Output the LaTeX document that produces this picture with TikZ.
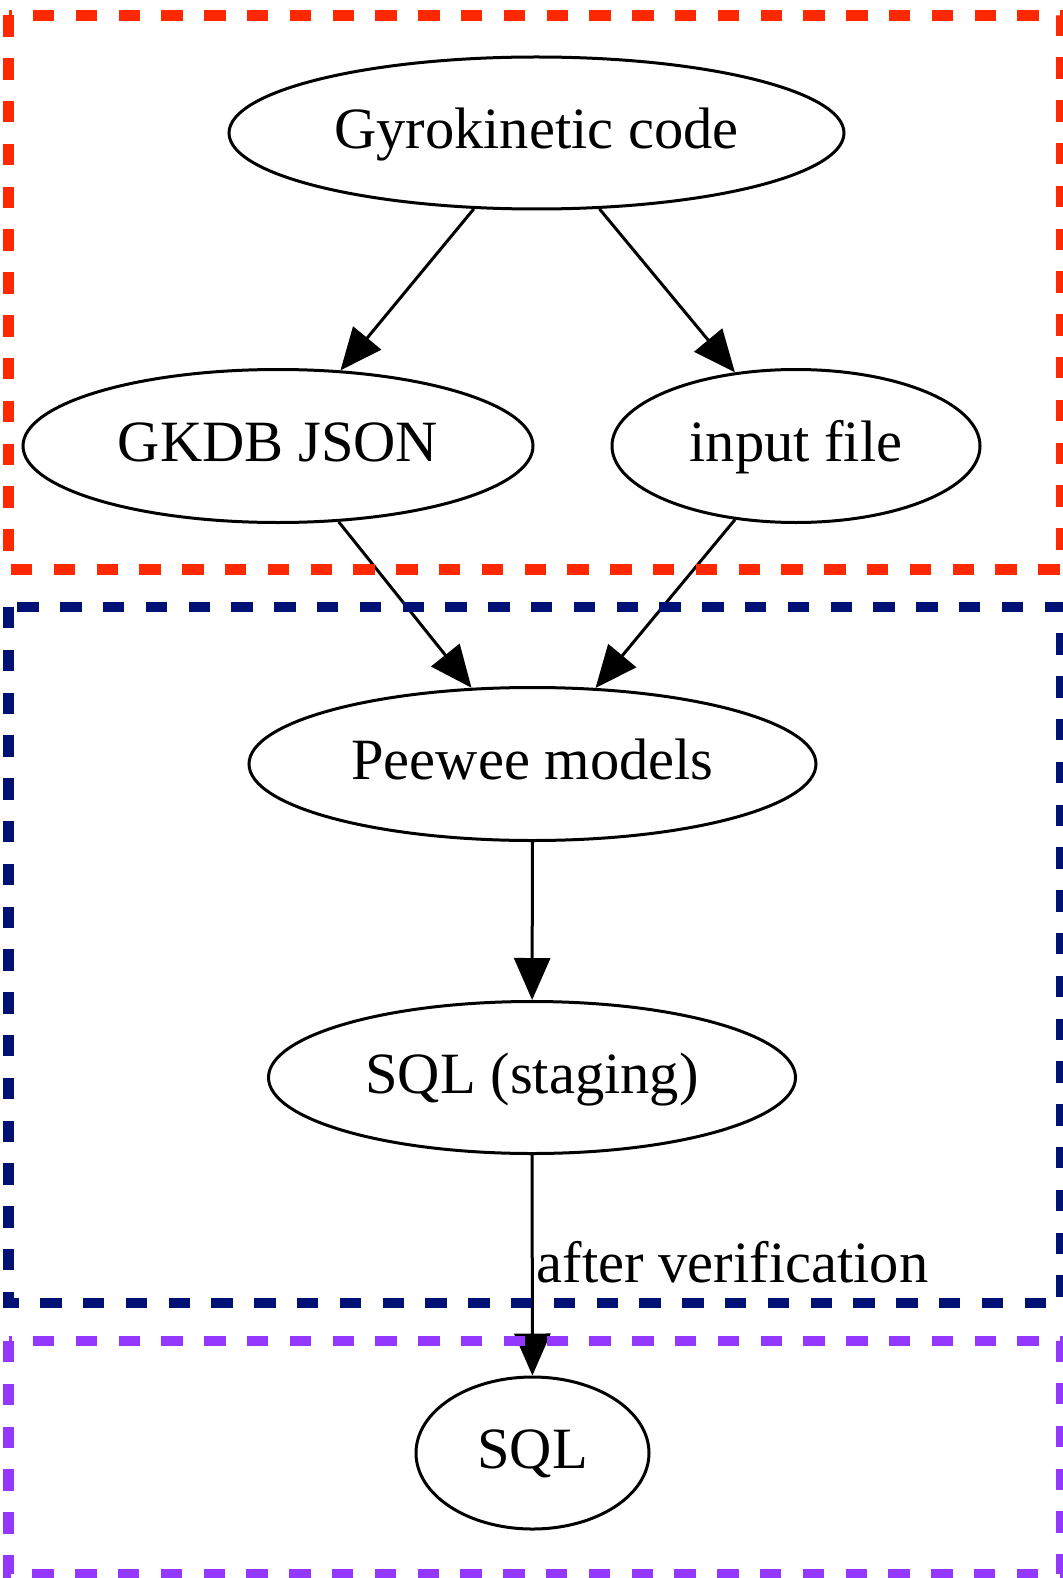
\documentclass[tikz,border=0pt]{standalone}
\usepackage{fontspec}
\setmainfont{Liberation Serif}
\usetikzlibrary{shapes.geometric,arrows.meta}

\definecolor{boxred}{RGB}{255,40,0}
\definecolor{boxnavy}{RGB}{0,17,118}
\definecolor{boxpurple}{RGB}{148,56,255}

\tikzset{
  gnode/.style={ellipse, draw=black, line width=3pt, inner sep=0pt,
    font=\fontsize{58.5}{70}\selectfont, text height=41pt, text depth=10pt},
  gedge/.style={draw=black, line width=3pt,
    -{Triangle[length=42pt,width=36pt]}},
  cluster/.style={line width=10.5pt, dash pattern=on 21.4pt off 21.4pt},
  elabel/.style={font=\fontsize{58.5}{70}\selectfont, anchor=base west, inner sep=0pt}
}

\begin{document}
\begin{tikzpicture}[x=1pt,y=-1pt]
  \useasboundingbox (0,0) rectangle (1062,1578);

  % pipeline stages
  \node[gnode, minimum width=615pt, minimum height=152pt] (gk)   at (536.5,133)  {Gyrokinetic code};
  \node[gnode, minimum width=510pt, minimum height=153pt] (json) at (278,446)    {GKDB JSON};
  \node[gnode, minimum width=368pt, minimum height=153pt] (inp)  at (796,446)    {input file};
  \node[gnode, minimum width=567pt, minimum height=153pt] (pw)   at (532.5,764)  {Peewee models};
  \node[gnode, minimum width=527pt, minimum height=152pt] (stg)  at (532,1077.5) {SQL (staging)};
  \node[gnode, minimum width=233pt, minimum height=152pt] (sql)  at (532.5,1453) {SQL};

  % data flow
  \draw[gedge] (gk) -- (json);
  \draw[gedge] (gk) -- (inp);
  \draw[gedge] (json) -- (pw);
  \draw[gedge] (inp) -- (pw);
  \draw[gedge] (pw) -- (stg);
  \draw[gedge] (stg) -- node[elabel, pos=0.58, xshift=3pt] (ver) {after verification} (sql);

  % grouping frames
  \coordinate (r1) at (8.5,15.5);   \coordinate (r2) at (1061,569.5);
  \coordinate (n1) at (8.5,607);    \coordinate (n2) at (1061,1303);
  \coordinate (p1) at (8.5,1341);   \coordinate (p2) at (1061,1574);
  \draw[cluster, boxred]    (r1) rectangle (r2);
  \draw[cluster, boxnavy]   (n1) rectangle (n2);
  \draw[cluster, boxpurple] (p1) rectangle (p2);
\end{tikzpicture}
\end{document}
